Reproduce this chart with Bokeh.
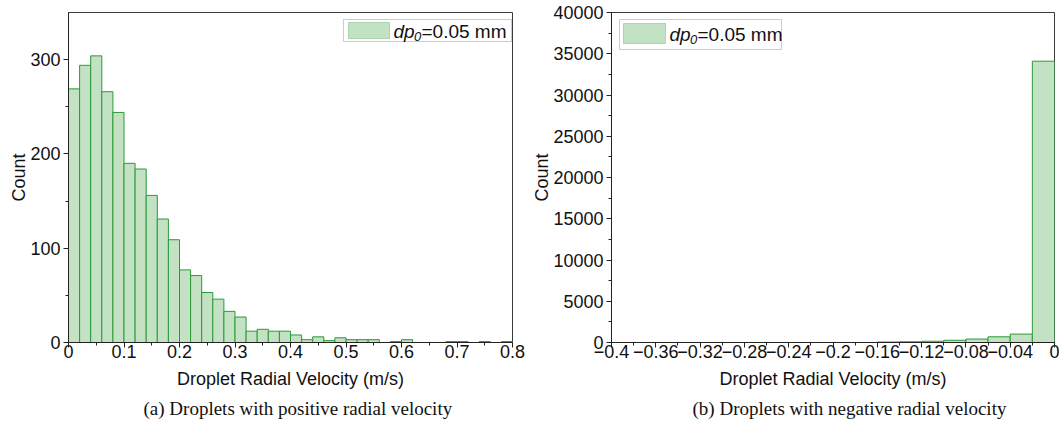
from bokeh.plotting import figure
from bokeh.layouts import row
from bokeh.models import Range1d, FixedTicker, CustomJSTickFormatter, BoxAnnotation, Label, ColumnDataSource
from bokeh.embed import file_html
from bokeh.resources import INLINE

# ---------------- data ----------------
bin_width = 0.02
# (a) positive radial velocity: bins of 0.02 m/s starting at 0
pos_start = 0.0
pos_counts = [269, 294, 304, 266, 244, 190, 184, 156, 131, 109,
              77, 71, 53, 46, 33, 27, 12, 14, 12, 12,
              8, 3, 6, 2, 5, 3, 3, 3, 0, 1,
              3, 0, 0, 0, 1, 1, 0, 1, 0, 1]
# (b) negative radial velocity: bins of 0.02 m/s starting at -0.4
neg_start = -0.4
neg_counts = [0, 0, 0, 0, 0, 0, 0, 0, 0, 0,
              0, 0, 60, 90, 150, 270, 420, 690, 1020, 34100]

pos_xticks = [0, 0.1, 0.2, 0.3, 0.4, 0.5, 0.6, 0.7, 0.8]
pos_yticks = [0, 100, 200, 300]
neg_xticks = [-0.4, -0.36, -0.32, -0.28, -0.24, -0.2, -0.16, -0.12, -0.08, -0.04, 0]
neg_yticks = [0, 5000, 10000, 15000, 20000, 25000, 30000, 35000, 40000]

legend_label = ("dp", "0", "=0.05 mm")
x_title = "Droplet Radial Velocity (m/s)"
y_title = "Count"
caption_a = "(a) Droplets with positive radial velocity"
caption_b = "(b) Droplets with negative radial velocity"

FILL = "#c3e2c3"
EDGE = "#2b9938"
SANS = "Liberation Sans"
SERIF = "Liberation Serif"


def bins(start, counts):
    left, right, top = [], [], []
    for i, c in enumerate(counts):
        if c <= 0:
            continue
        l = round(start + i * bin_width, 4)
        left.append(l)
        right.append(round(l + bin_width, 4))
        top.append(c)
    return ColumnDataSource(dict(left=left, right=right, top=top))


def make_fig(width, border_left, border_right, frame_w, x_range, y_range, caption, caption_offset):
    p = figure(width=width, height=427, frame_width=frame_w, frame_height=330,
               x_range=x_range, y_range=y_range,
               output_backend="svg", toolbar_location=None,
               title=caption, title_location="below",
               min_border_left=border_left, min_border_right=border_right,
               min_border_top=12, min_border_bottom=85)
    p.title.text_font = SERIF
    p.title.text_font_size = "19px"
    p.title.text_font_style = "normal"
    p.title.text_color = "#111111"
    p.title.align = "left"
    p.title.offset = caption_offset
    p.title.standoff = 8
    p.xgrid.visible = False
    p.ygrid.visible = False
    p.outline_line_color = "#3a3a3a"
    p.outline_line_width = 1
    p.background_fill_color = "white"
    p.border_fill_color = "white"
    for ax in (p.xaxis[0], p.yaxis[0]):
        ax.axis_line_color = "#222222"
        ax.major_tick_line_color = "#222222"
        ax.minor_tick_line_color = "#222222"
        ax.major_tick_out = 5
        ax.major_tick_in = 0
        ax.minor_tick_out = 3
        ax.minor_tick_in = 0
        ax.major_label_text_font = SANS
        ax.major_label_text_font_size = "18px"
        ax.major_label_text_color = "#111111"
        ax.axis_label_text_font = SANS
        ax.axis_label_text_font_size = "18px"
        ax.axis_label_text_font_style = "normal"
        ax.axis_label_text_color = "#111111"
    p.xaxis.axis_label = x_title
    p.yaxis.axis_label = y_title
    p.xaxis.major_label_standoff = -3
    p.xaxis.axis_label_standoff = 8
    p.yaxis.major_label_standoff = 3
    p.yaxis.axis_label_standoff = -2
    return p


def add_legend(p, frame_left, frame_w, box, swatch, text_x, text_mid):
    # box / swatch given as pixel rectangles (left, right, top, bottom) in the page
    xs, xe = p.x_range.start, p.x_range.end
    ys, ye = p.y_range.start, p.y_range.end
    X = lambda px: xs + (px - frame_left) / frame_w * (xe - xs)
    Y = lambda py: ys + (342 - py) / 330 * (ye - ys)
    p.add_layout(BoxAnnotation(left=X(box[0]), right=X(box[1]), top=Y(box[2]), bottom=Y(box[3]),
                               fill_color="white", fill_alpha=1,
                               line_color="#555555", line_width=1))
    p.add_layout(BoxAnnotation(left=X(swatch[0]), right=X(swatch[1]), top=Y(swatch[2]), bottom=Y(swatch[3]),
                               fill_color=FILL, fill_alpha=1, line_color=EDGE, line_width=1))
    p.add_layout(Label(x=X(text_x), y=Y(text_mid), text=legend_label[0], text_font=SANS,
                       text_font_size="19px", text_font_style="italic", text_color="#111111",
                       text_baseline="middle"))
    p.add_layout(Label(x=X(text_x + 20.5), y=Y(text_mid + 5), text=legend_label[1], text_font=SANS,
                       text_font_size="13px", text_font_style="italic", text_color="#111111",
                       text_baseline="middle"))
    p.add_layout(Label(x=X(text_x + 28), y=Y(text_mid), text=legend_label[2], text_font=SANS,
                       text_font_size="19px", text_font_style="normal", text_color="#111111",
                       text_baseline="middle"))


# ---------------- (a) ----------------
pa = make_fig(525, 68, 13, 444, Range1d(0, 0.8), Range1d(0, 350), caption_a, 75)
pa.quad(left="left", right="right", bottom=0, top="top", source=bins(pos_start, pos_counts),
        fill_color=FILL, line_color=EDGE, line_width=1)
pa.xaxis.ticker = FixedTicker(ticks=pos_xticks, minor_ticks=[0.05, 0.15, 0.25, 0.35, 0.45, 0.55, 0.65, 0.75])
pa.yaxis.ticker = FixedTicker(ticks=pos_yticks, minor_ticks=[50, 150, 250])
pa.xaxis.formatter = CustomJSTickFormatter(code="return String(Math.round(tick*100)/100);")
pa.yaxis.formatter = CustomJSTickFormatter(code="return String(Math.round(tick));")
add_legend(pa, 68, 444, (343, 511, 19, 41), (348, 389, 22, 38), 393, 30.5)

# ---------------- (b) ----------------
pb = make_fig(534, 86, 5, 443, Range1d(-0.4, 0), Range1d(0, 40000), caption_b, 81)
pb.quad(left="left", right="right", bottom=0, top="top", source=bins(neg_start, neg_counts),
        fill_color=FILL, line_color=EDGE, line_width=1)
pb.xaxis.ticker = FixedTicker(ticks=neg_xticks,
                              minor_ticks=[-0.38, -0.34, -0.30, -0.26, -0.22, -0.18, -0.14, -0.10, -0.06, -0.02])
pb.yaxis.ticker = FixedTicker(ticks=neg_yticks,
                              minor_ticks=[2500, 7500, 12500, 17500, 22500, 27500, 32500, 37500])
pb.xaxis.formatter = CustomJSTickFormatter(
    code="return String(Math.round(tick*100)/100).replace('-', '\\u2212');")
pb.yaxis.formatter = CustomJSTickFormatter(code="return String(Math.round(tick));")
add_legend(pb, 611, 443, (619, 781, 19, 49), (623, 665, 23, 43), 669, 34)

layout = row(pa, pb)
open("out.html", "w").write(file_html(layout, INLINE))
